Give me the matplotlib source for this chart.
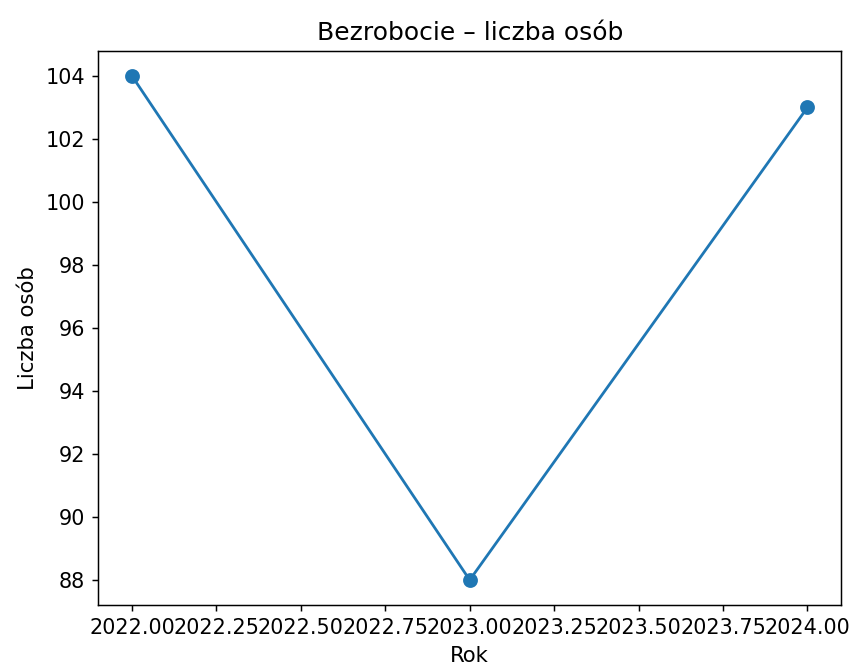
import matplotlib
matplotlib.use("Agg")
import matplotlib.pyplot as plt

# data
lata = [2022, 2023, 2024]
liczba_osob = [104, 88, 103]

fig, ax = plt.subplots(figsize=(6.4, 5.006), dpi=133.44)
ax.plot(lata, liczba_osob, marker='o', markersize=7)

ax.set_title('Bezrobocie – liczba osób', fontsize=13.5)
ax.set_xlabel('Rok', fontsize=11.5)
ax.set_ylabel('Liczba osób', fontsize=11.5)
ax.tick_params(labelsize=11.2)

fig.subplots_adjust(left=0.115, right=0.985, top=0.924, bottom=0.094)
fig.savefig('out.png')
